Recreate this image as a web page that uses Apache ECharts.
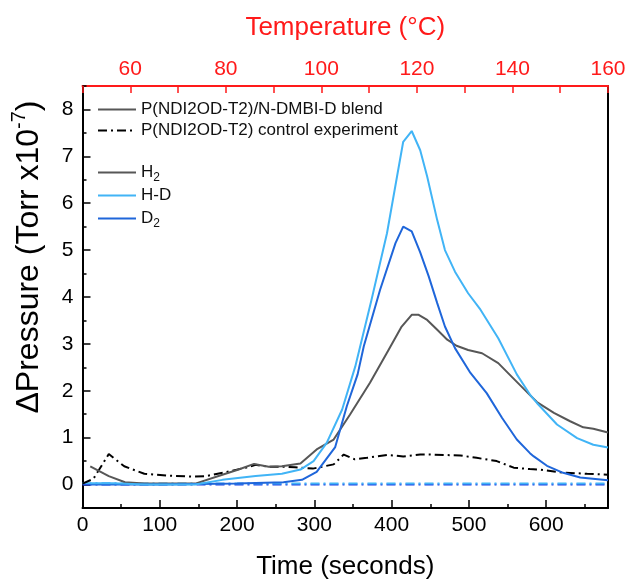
<!DOCTYPE html>
<html><head><meta charset="utf-8">
<script src="https://cdn.jsdelivr.net/npm/echarts@6/dist/echarts.min.js"></script>
<style>html,body{margin:0;padding:0;background:#fff}#c{width:628px;height:580px}</style>
</head><body><div id="c"></div>
<script>
// ---- data (time in s, pressure in 1e-7 Torr) ----
const blendH2 = [[10,0.39],[34,0.18],[55,0.05],[80,0.02],[146,0.02],[181,0.21],[202,0.32],[222,0.44],[241,0.38],[258,0.39],[282,0.45],[303,0.75],[325,0.96],[346,1.49],[372,2.17],[396,2.87],[413,3.37],[426,3.62],[435,3.62],[446,3.51],[459,3.3],[472,3.09],[484,2.96],[499,2.87],[517,2.8],[538,2.59],[553,2.34],[571,2.04],[588,1.76],[610,1.53],[631,1.35],[648,1.22],[661,1.19],[680,1.11]];
const blendHD = [[10,0.03],[40,0.03],[80,0.0],[146,0.0],[181,0.1],[224,0.18],[258,0.23],[282,0.32],[299,0.5],[316,0.89],[336,1.6],[353,2.52],[374,3.94],[394,5.36],[407,6.57],[415,7.31],[426,7.54],[437,7.13],[446,6.57],[459,5.64],[469,5.0],[482,4.54],[499,4.08],[515,3.73],[538,3.12],[562,2.35],[579,1.92],[588,1.74],[614,1.28],[640,0.99],[661,0.85],[680,0.79]];
const blendD2 = [[10,0.0],[100,0.0],[200,0.02],[260,0.05],[284,0.1],[303,0.27],[327,0.8],[342,1.67],[356,2.35],[364,2.95],[385,4.15],[405,5.15],[415,5.5],[426,5.4],[437,4.95],[448,4.44],[459,3.87],[469,3.37],[482,2.91],[502,2.38],[523,1.95],[543,1.42],[562,0.96],[579,0.67],[584,0.6],[601,0.4],[622,0.25],[644,0.15],[680,0.09]];
const ctrlH2 = [[0,0.02],[14,0.12],[34,0.65],[54,0.39],[80,0.23],[110,0.19],[142,0.17],[160,0.18],[184,0.26],[211,0.36],[224,0.42],[241,0.38],[256,0.38],[275,0.37],[298,0.34],[325,0.43],[338,0.64],[352,0.54],[368,0.57],[394,0.63],[415,0.6],[437,0.64],[450,0.64],[489,0.62],[510,0.57],[536,0.5],[558,0.36],[579,0.33],[592,0.32],[618,0.26],[653,0.23],[680,0.21]];
const ctrlHD = [[0,0.03],[100,0.02],[200,0.02],[300,0.02],[400,0.02],[500,0.02],[600,0.02],[680,0.02]];
const ctrlD2 = [[0,0.0],[100,0.0],[200,0.0],[300,0.0],[400,0.0],[500,0.0],[600,0.0],[680,0.0]];
const yMajorTicks = [0,1,2,3,4,5,6,7,8];
const legendTop = ['P(NDI2OD-T2)/N-DMBI-D blend','P(NDI2OD-T2) control experiment'];
const legendGas = ['H2','H-D','D2'];

const FONT = 'Liberation Sans, Arial, Helvetica, sans-serif';
const C_H2 = '#575757', C_HD = '#41b4f6', C_D2 = '#1f66da', C_CD2 = '#1a3ee6';
const RED = '#ff1a1a';
const DASHDOT = [9,4,2,4];

const chart = echarts.init(document.getElementById('c'), null, {renderer:'canvas'});
const line = (name, data, color, type, z) => ({
  name, type:'line', data, xAxisIndex:0, yAxisIndex:0, symbol:'none', z: z||2,
  lineStyle:{color, width:2, type: type||'solid'}, itemStyle:{color}, animation:false
});
const hiddenItem = {color:'rgba(0,0,0,0)', borderColor:'rgba(0,0,0,0)', borderWidth:0};
chart.setOption({
  animation:false,
  textStyle:{fontFamily:FONT},
  grid:{left:82.5, right:20, top:86, bottom:72, show:false, containLabel:false, outerBoundsMode:'none'},
  legend:[
    {data:legendTop, orient:'vertical', left:92, top:94, itemWidth:38, itemHeight:14, itemGap:0,
     itemStyle:hiddenItem,
     textStyle:{fontSize:17, color:'#111', fontFamily:FONT, lineHeight:21}},
    {data:legendGas, orient:'vertical', left:92, top:156, itemWidth:38, itemHeight:14, itemGap:0,
     itemStyle:hiddenItem,
     formatter: n => n==='H2' ? 'H{s|2}' : n==='D2' ? 'D{s|2}' : n,
     textStyle:{fontSize:17, color:'#111', fontFamily:FONT, lineHeight:23,
       rich:{s:{fontSize:12, lineHeight:12, verticalAlign:'bottom', fontFamily:FONT, color:'#111'}}}}
  ],
  xAxis:[
    {type:'value', position:'bottom', min:0, max:680, interval:50,
     axisLine:{onZero:false, lineStyle:{color:'#000', width:2}},
     axisTick:{inside:true, length:4, lineStyle:{color:'#000', width:1.5}},
     axisLabel:{formatter:v => (v%100===0 && v<=600) ? String(v) : '', fontSize:21, color:'#000', margin:7, fontFamily:FONT},
     splitLine:{show:false},
     name:'Time (seconds)', nameLocation:'middle', nameGap:46,
     nameTextStyle:{fontSize:26, color:'#000', fontFamily:FONT}},
    {type:'value', position:'bottom', min:0, max:680, interval:100,
     axisLine:{show:false, onZero:false}, axisLabel:{show:false}, splitLine:{show:false},
     axisTick:{inside:true, length:8, lineStyle:{color:'#000', width:1.5}}},
    {type:'value', position:'top', min:50, max:160, interval:10,
     axisLine:{onZero:false, lineStyle:{color:RED, width:2}},
     axisTick:{inside:true, length:7, lineStyle:{color:RED, width:1.5}},
     axisLabel:{formatter:v => v%20===0 ? String(v) : '', fontSize:21, color:RED, margin:6, fontFamily:FONT},
     splitLine:{show:false},
     name:'Temperature (°C)', nameLocation:'middle', nameGap:45,
     nameTextStyle:{fontSize:26, color:RED, fontFamily:FONT}}
  ],
  yAxis:[
    {type:'value', position:'left', min:-0.5, max:8.5, interval:0.5,
     axisLine:{onZero:false, lineStyle:{color:'#000', width:2}},
     axisTick:{inside:true, length:4, lineStyle:{color:'#000', width:1.5}},
     axisLabel:{formatter:v => Number.isInteger(v) && v>=0 ? String(v) : '', fontSize:21, color:'#000', margin:9, fontFamily:FONT},
     splitLine:{show:false},
     name:'ΔPressure (Torr x10{sup|-7})', nameLocation:'middle', nameGap:33, nameRotate:90,
     nameTextStyle:{fontSize:32, color:'#000', fontFamily:FONT, lineHeight:40, padding:[0,0,0,80],
       rich:{sup:{fontSize:20, lineHeight:20, verticalAlign:'top', fontFamily:FONT, color:'#000'}}}},
    {type:'value', position:'left', min:-0.5, max:8.5, interval:0.5,
     axisLine:{show:false, onZero:false}, axisLabel:{show:false}, splitLine:{show:false},
     axisTick:{inside:true, length:8, customValues:yMajorTicks, lineStyle:{color:'#000', width:1.5}}},
    {type:'value', position:'right', min:-0.5, max:8.5, interval:0.5,
     axisLine:{show:true, onZero:false, lineStyle:{color:'#000', width:2}},
     axisTick:{show:false}, axisLabel:{show:false}, splitLine:{show:false}}
  ],
  series:[
    line(legendTop[0], [], C_H2),
    line(legendTop[1], [], '#000', DASHDOT),
    line('ctrlD2', ctrlD2, C_CD2, DASHDOT, 1),
    line('ctrlHD', ctrlHD, C_HD, DASHDOT, 1),
    line('ctrlH2', ctrlH2, '#000', DASHDOT, 2),
    line('H2', blendH2, C_H2),
    line('D2', blendD2, C_D2),
    line('H-D', blendHD, C_HD)
  ]
});
</script></body></html>
